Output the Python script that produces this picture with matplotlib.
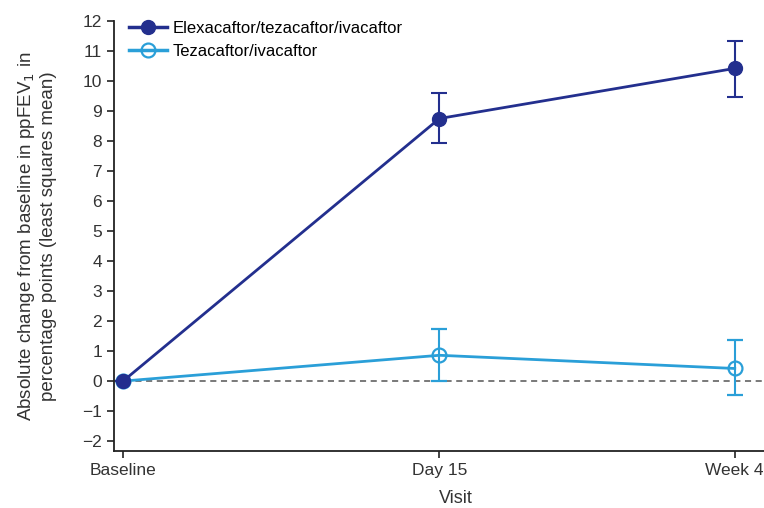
import matplotlib.pyplot as plt
from matplotlib.lines import Line2D

plt.rcParams['font.family'] = ['Liberation Sans', 'DejaVu Sans']

# visit day on the x axis
days = [0, 15, 29]
visit_labels = ['Baseline', 'Day 15', 'Week 4']

eti_mean = [0, 8.75, 10.42]
eti_low = [0, 7.95, 9.48]
eti_high = [0, 9.6, 11.33]

ti_mean = [0, 0.86, 0.42]
ti_low = [0, 0.0, -0.48]
ti_high = [0, 1.72, 1.37]

navy = '#232f8e'
sky = '#2a9fd8'

fig = plt.figure(figsize=(7.64, 5.08), dpi=100)
ax = fig.add_axes([114 / 764, 57 / 508, 684 / 764, 430 / 508])

ax.axhline(0, color='#555555', lw=1.1, ls=(0, (4, 3)), zorder=1)

eti_err = [[m - l for m, l in zip(eti_mean, eti_low)], [h - m for m, h in zip(eti_mean, eti_high)]]
ti_err = [[m - l for m, l in zip(ti_mean, ti_low)], [h - m for m, h in zip(ti_mean, ti_high)]]

ax.errorbar(days, ti_mean, yerr=ti_err, color=sky, lw=2, marker='o', ms=10,
            mfc='none', mec=sky, mew=1.6, capsize=6, elinewidth=1.5, capthick=1.5, zorder=3)
ax.errorbar(days, eti_mean, yerr=eti_err, color=navy, lw=2, marker='o', ms=10,
            capsize=6, elinewidth=1.5, capthick=1.5, zorder=4)

ax.set_xlim(-0.43, 32)
ax.set_ylim(-2.33, 12)
ax.set_yticks(range(-2, 13))
ax.set_yticklabels([str(v).replace('-', '\u2212') for v in range(-2, 13)])
ax.set_xticks(days)
ax.set_xticklabels(visit_labels)
ax.tick_params(labelsize=12.5, length=5, width=1.2, color='#222222', labelcolor='#333333')
for s in ['top', 'right']:
    ax.spines[s].set_visible(False)
for s in ['left', 'bottom']:
    ax.spines[s].set_linewidth(1.3)
    ax.spines[s].set_color('#222222')

ax.set_xlabel('Visit', fontsize=13, color='#333333', labelpad=9)
ax.set_ylabel('Absolute change from baseline in ppFEV$_1$ in\npercentage points (least squares mean)',
              fontsize=13.5, color='#333333', labelpad=18, linespacing=1.25)

handles = [Line2D([], [], color=navy, lw=2.5, marker='o', ms=10),
           Line2D([], [], color=sky, lw=2.5, marker='o', ms=10, mfc='none', mew=1.6)]
ax.legend(handles, ['Elexacaftor/tezacaftor/ivacaftor', 'Tezacaftor/ivacaftor'],
          loc='upper left', bbox_to_anchor=(0.0, 1.035), frameon=False,
          fontsize=12, handlelength=2.3, handletextpad=0.3, labelspacing=0.5)

fig.savefig('out.png', dpi=100)
